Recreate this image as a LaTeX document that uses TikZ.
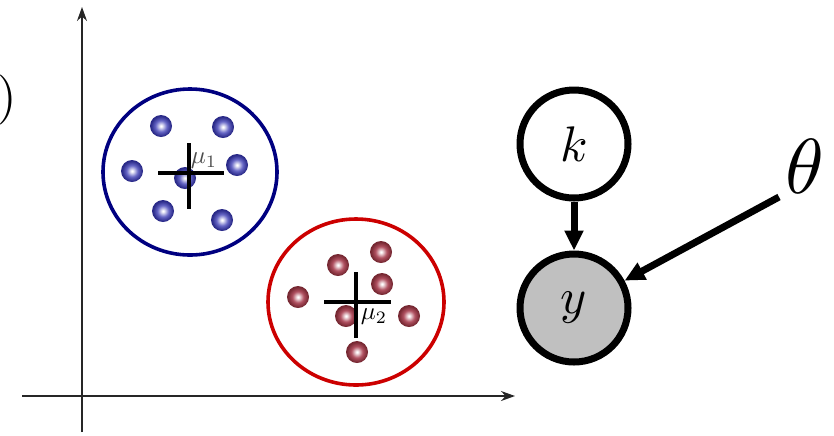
\documentclass[tikz,border=0pt]{standalone}
\usetikzlibrary{arrows.meta,shadings}
\definecolor{navy}{HTML}{000080}
\definecolor{cred}{HTML}{CC0000}
\definecolor{nodegray}{HTML}{C0C0C0}
\definecolor{bmid}{HTML}{6565C5}
\definecolor{bedge}{HTML}{2A2A88}
\definecolor{rmid}{HTML}{B05060}
\definecolor{redge}{HTML}{762832}
\pgfdeclareradialshading{bballsh}{\pgfpoint{0bp}{0bp}}{color(0bp)=(white); color(2.5bp)=(white!90!bmid); color(13bp)=(bmid); color(23bp)=(bedge); color(50bp)=(bedge)}
\pgfdeclareradialshading{rballsh}{\pgfpoint{0bp}{0bp}}{color(0bp)=(white); color(2.5bp)=(white!90!rmid); color(13bp)=(rmid); color(23bp)=(redge); color(50bp)=(redge)}
\begin{document}
\begin{tikzpicture}[x=0.5pt,y=-0.5pt,
  axis/.style={line width=0.8pt, draw=black!85, -{Stealth[length=7pt,width=5pt]}},
  bball/.style={circle, inner sep=0pt, minimum size=11pt, shading=bballsh},
  rball/.style={circle, inner sep=0pt, minimum size=11pt, shading=rballsh},
  crossline/.style={line width=1.6pt, black},
  gnode/.style={circle, draw=black, line width=3.5pt, minimum size=54pt, inner sep=0pt},
  garrow/.style={line width=3.5pt, -{Triangle[length=10pt,width=9pt]}},
  mulabel/.style={inner sep=0pt}
]
\useasboundingbox (0,0) rectangle (834,435);

% axes
\coordinate (yb) at (82,432);
\coordinate (yt) at (82,7);
\coordinate (xl) at (22,396);
\coordinate (xr) at (515,396);
\draw[axis] (yb) -- (yt);
\draw[axis] (xl) -- (xr);

% partial text at left
\node[anchor=base east, inner sep=0pt] (paren) at (17,112) {\scalebox{2.5}{$)$}};

% blue cluster
\draw[navy, line width=1.8pt] (190,172) ellipse (87 and 83);
\node[bball] (b1) at (161,126) {};
\node[bball] (b2) at (223,127) {};
\node[bball] (b3) at (132,171) {};
\node[bball] (b4) at (237,165) {};
\node[bball] (b5) at (185,178) {};
\node[bball] (b6) at (163,211) {};
\node[bball] (b7) at (222,220) {};
\coordinate (c1l) at (158,173);
\coordinate (c1r) at (224,173);
\coordinate (c1t) at (189,143);
\coordinate (c1b) at (189,209);
\draw[crossline] (c1l) -- (c1r);
\draw[crossline] (c1t) -- (c1b);
\node[mulabel, text=black!70] (mu1) at (204,161) {\scalebox{1.25}{$\mu_1$}};

% red cluster
\draw[cred, line width=1.8pt] (356,302) ellipse (88 and 83);
\node[rball] (r1) at (381,252) {};
\node[rball] (r2) at (338,265) {};
\node[rball] (r3) at (382,284) {};
\node[rball] (r4) at (298,297) {};
\node[rball] (r5) at (346,316) {};
\node[rball] (r6) at (409,316) {};
\node[rball] (r7) at (357,352) {};
\coordinate (c2l) at (324,302);
\coordinate (c2r) at (391,302);
\coordinate (c2t) at (356,272);
\coordinate (c2b) at (356,338);
\draw[crossline] (c2l) -- (c2r);
\draw[crossline] (c2t) -- (c2b);
\node[mulabel] (mu2) at (374,317) {\scalebox{1.25}{$\mu_2$}};

% graphical model
\node[gnode] (k) at (574,144) {\scalebox{2.5}{$k$}};
\node[gnode, fill=nodegray] (y) at (574,308) {\scalebox{2.5}{$y$}};
\node[inner sep=0pt] (theta) at (805,166) {\scalebox{3.9}{$\theta$}};
\coordinate (ts) at (779,197);
\draw[garrow] (k) -- (y);
\draw[garrow] (ts) -- (y);
\end{tikzpicture}
\end{document}
